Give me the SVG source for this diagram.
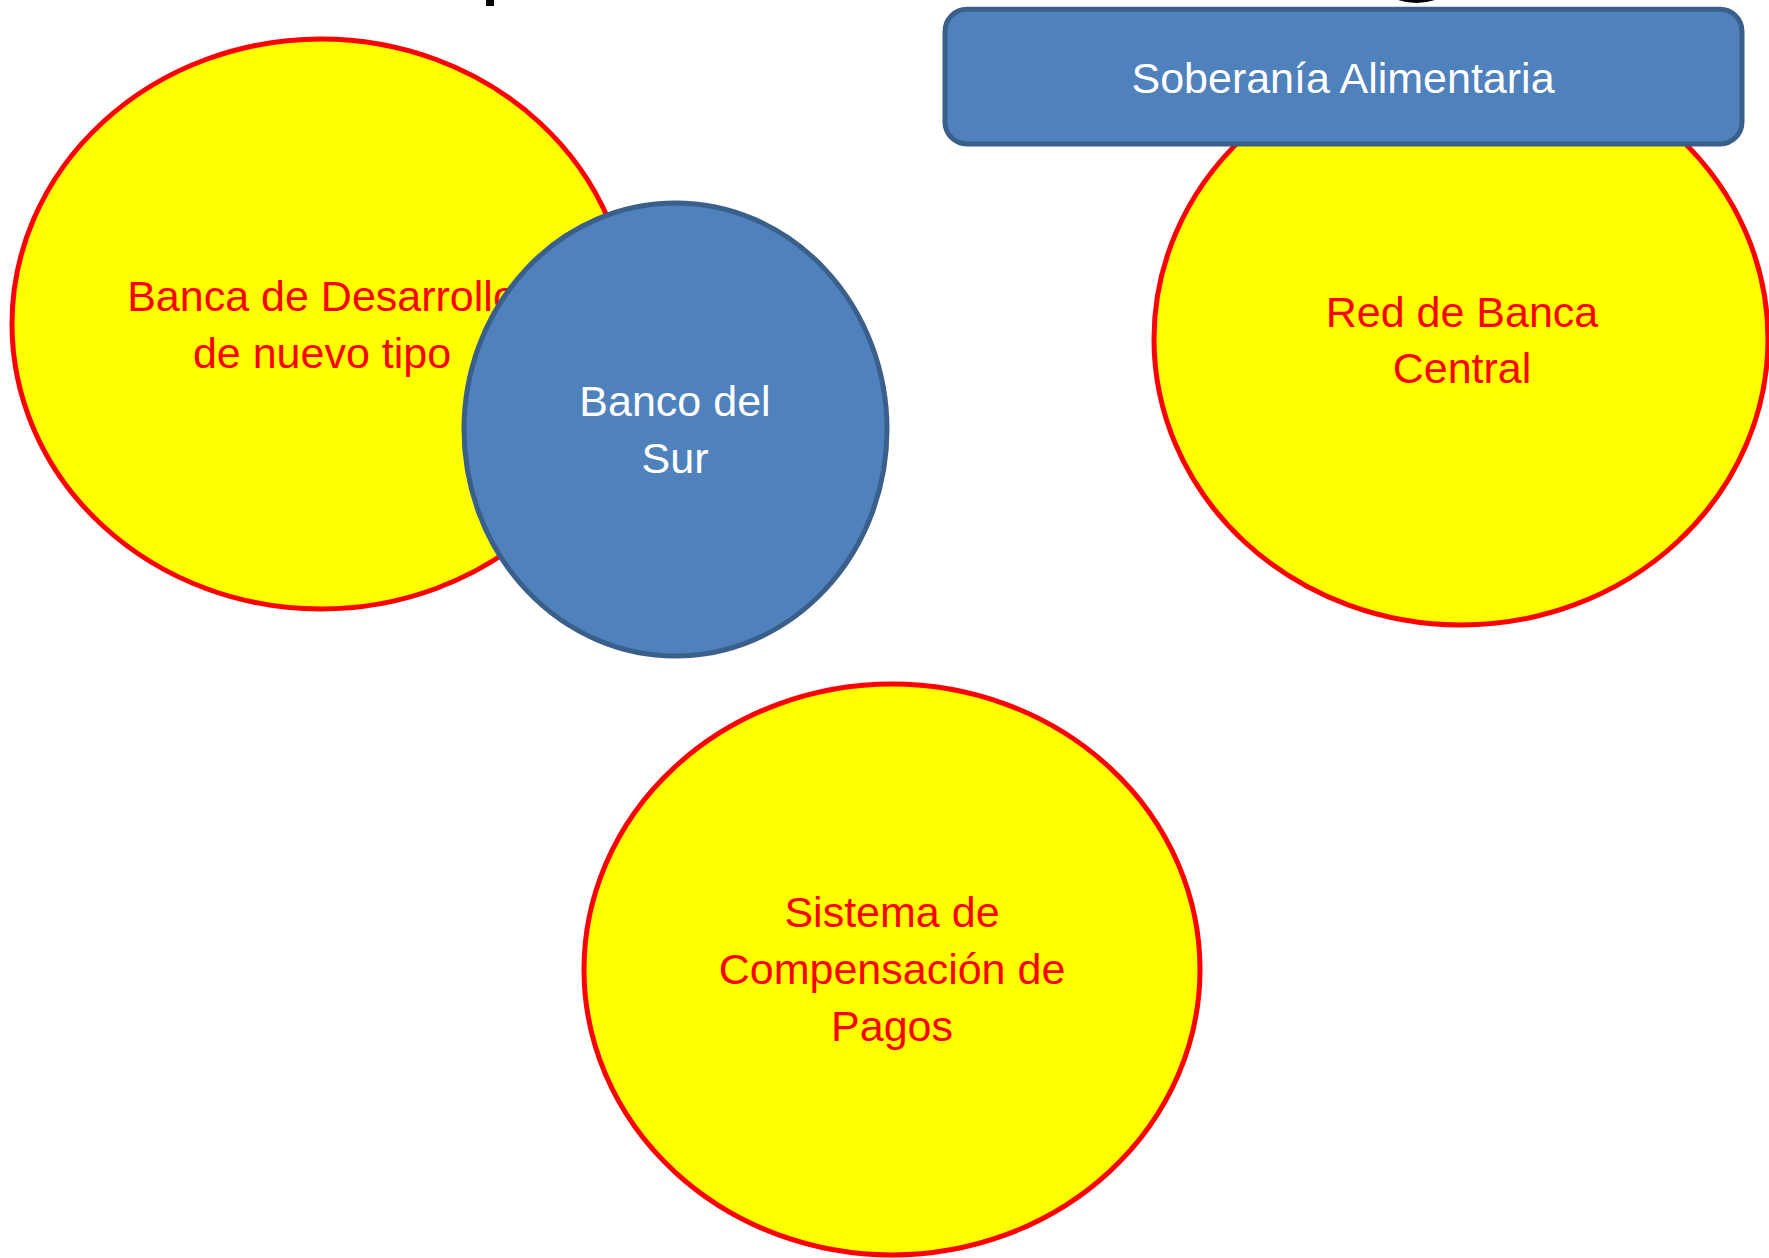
<svg xmlns="http://www.w3.org/2000/svg" width="1769" height="1258" viewBox="0 0 1769 1258">
  <style>
    .yel { fill: #FFFF00; stroke: #FF0000; stroke-width: 5; }
    .blu { fill: #4F81BD; stroke: #3A5F8B; stroke-width: 5; }
    .rt { font-family: "Liberation Sans", Arial, sans-serif; font-size: 43px; fill: #FF0000; text-anchor: middle; }
    .wt { font-family: "Liberation Sans", Arial, sans-serif; font-size: 43px; fill: #FFFFFF; text-anchor: middle; }
  </style>
  <rect x="0" y="0" width="1769" height="1258" fill="#FFFFFF"/>
  <g id="title-fragments" fill="#000000">
    <rect x="486" y="0" width="8" height="6"/>
    <path d="M1398,0 Q1416,6 1435,0 Z"/>
  </g>
  <g id="connectors"></g>
  <g id="node-banca-desarrollo">
    <ellipse class="yel" cx="321" cy="324" rx="309" ry="285"/>
    <text class="rt" x="322" y="311">Banca de Desarrollo</text>
    <text class="rt" x="322" y="368">de nuevo tipo</text>
  </g>
  <g id="node-banco-sur">
    <ellipse class="blu" cx="675.5" cy="429.5" rx="211.5" ry="226.5"/>
    <text class="wt" x="675" y="416">Banco del</text>
    <text class="wt" x="675" y="473">Sur</text>
  </g>
  <g id="node-red-banca-central">
    <ellipse class="yel" cx="1461" cy="339" rx="307" ry="286"/>
    <text class="rt" x="1462" y="327">Red de Banca</text>
    <text class="rt" x="1462" y="383">Central</text>
  </g>
  <g id="node-soberania">
    <rect class="blu" x="945" y="9.3" width="797" height="134.7" rx="22" ry="22"/>
    <text class="wt" x="1343" y="93">Soberanía Alimentaria</text>
  </g>
  <g id="node-sistema-compensacion">
    <ellipse class="yel" cx="892" cy="969.5" rx="308" ry="285.5"/>
    <text class="rt" x="892" y="927">Sistema de</text>
    <text class="rt" x="892" y="984">Compensación de</text>
    <text class="rt" x="892" y="1041">Pagos</text>
  </g>
</svg>
